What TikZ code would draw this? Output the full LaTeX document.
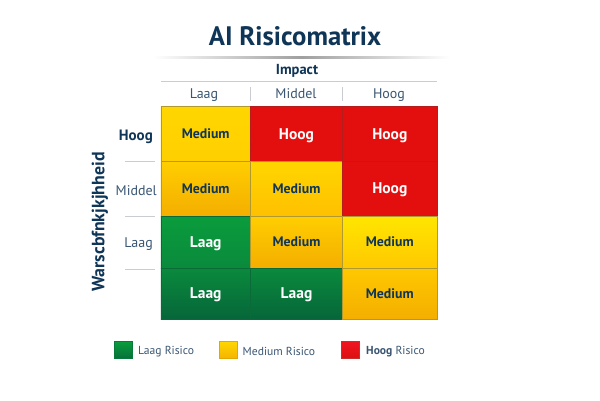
\documentclass[tikz,border=0pt]{standalone}
\usepackage{fontspec}
\setmainfont{PT Sans}
\definecolor{navy}{HTML}{0F3557}
\definecolor{slate}{HTML}{3A5673}
\definecolor{rulegray}{HTML}{C9CDD2}
\definecolor{gridline}{HTML}{B09A30}
\definecolor{redfill}{HTML}{E30F0F}
\definecolor{redline}{HTML}{B51C1C}
\definecolor{greenline}{HTML}{0A6B38}
\definecolor{yA}{HTML}{FFD600}
\definecolor{yB}{HTML}{FFCF00}
\definecolor{yC}{HTML}{FFCE00}
\definecolor{yD}{HTML}{F4AE00}
\definecolor{yE}{HTML}{FFC000}
\definecolor{yF}{HTML}{FFE600}
\definecolor{yG}{HTML}{FFC800}
\definecolor{gA}{HTML}{0A9C3C}
\definecolor{gB}{HTML}{0A8A3C}
\definecolor{gC}{HTML}{06663A}
\definecolor{kyB}{HTML}{F5B400}
\definecolor{kyL}{HTML}{E0A800}
\definecolor{kgB}{HTML}{06703A}
\definecolor{kgL}{HTML}{0A7A3C}
\definecolor{krA}{HTML}{F01520}
\definecolor{krB}{HTML}{DC0F0F}
\definecolor{krL}{HTML}{C83030}
\tikzset{
  cell/.style={rectangle,inner sep=0pt,outer sep=0pt,draw=gridline,line width=0.5pt},
  med/.style={cell,text=navy,font=\fontsize{13.8}{15}\selectfont\bfseries},
  hi/.style={cell,text=white,draw=redline,fill=redfill,text depth=0pt,font=\fontsize{15.5}{17}\selectfont\bfseries},
  lo/.style={cell,text=white,draw=greenline,text depth=0pt,font=\fontsize{15.5}{17}\selectfont\bfseries},
  collab/.style={font=\fontsize{14}{16}\selectfont,text=slate,inner sep=0pt},
  rowlab/.style={font=\fontsize{14}{16}\selectfont,text=slate,inner sep=0pt,anchor=east},
  sep/.style={draw=rulegray,line width=0.8pt},
  key/.style={rectangle,minimum width=18pt,minimum height=17pt,inner sep=0pt},
  keylab/.style={font=\fontsize{11.6}{14}\selectfont,text=slate,inner sep=0pt,anchor=west},
}
\begin{document}
\begin{tikzpicture}[x=1pt,y=-1pt]
\useasboundingbox (0,0) rectangle (600,400);
\fill[white] (0,0) rectangle (600,400);
\node[font=\fontsize{26.7}{30}\selectfont\bfseries,text=navy,inner sep=0pt] (title) at (295,36) {AI Risicomatrix};
\shade[left color=white,right color=white,middle color=gray!75] (153,56.2) rectangle (450,58);
\node[font=\fontsize{14.5}{16}\selectfont\bfseries,text=navy,inner sep=0pt] (impact) at (297,71) {Impact};
\coordinate (tl) at (161,81); \coordinate (tr) at (437,81);
\draw[sep] (tl) -- (tr);
\node[collab] (c1) at (204,95) {Laag};
\node[collab] (c2) at (296,94) {Middel};
\node[collab] (c3) at (389,95) {Hoog};
\coordinate (s1a) at (250.3,87); \coordinate (s1b) at (250.3,101);
\coordinate (s2a) at (342.5,87); \coordinate (s2b) at (342.5,101);
\draw[sep] (s1a) -- (s1b);
\draw[sep] (s2a) -- (s2b);
% row 1
\node[med,top color=yA,bottom color=yB,minimum width=89.5pt,minimum height=54.5pt] (m11) at (205.7,133.7) {Medium};
\node[hi,minimum width=92pt,minimum height=54.5pt] (m12) at (296.5,133.7) {Hoog};
\node[hi,minimum width=94.5pt,minimum height=54.5pt] (m13) at (389.8,133.7) {Hoog};
% row 2
\node[med,top color=yC,bottom color=yD,minimum width=89.5pt,minimum height=55pt] (m21) at (205.7,188.5) {Medium};
\node[med,top color=yA,bottom color=yE,minimum width=92pt,minimum height=55pt] (m22) at (296.5,188.5) {Medium};
\node[hi,minimum width=94.5pt,minimum height=55pt] (m23) at (389.8,188.5) {Hoog};
% row 3
\node[lo,top color=gA,bottom color=gB,minimum width=89.5pt,minimum height=52pt] (m31) at (205.7,242) {Laag};
\node[med,top color=yC,bottom color=yD,minimum width=92pt,minimum height=52pt] (m32) at (296.5,242) {Medium};
\node[med,top color=yF,bottom color=yG,minimum width=94.5pt,minimum height=52pt] (m33) at (389.8,242) {Medium};
% row 4
\node[lo,top color=gB,bottom color=gC,minimum width=89.5pt,minimum height=51pt] (m41) at (205.7,293.5) {Laag};
\node[lo,top color=gB,bottom color=gC,minimum width=92pt,minimum height=51pt] (m42) at (296.5,293.5) {Laag};
\node[med,top color=yG,bottom color=yD,minimum width=94.5pt,minimum height=51pt] (m43) at (389.8,293.5) {Medium};
% row labels
\node[rowlab,text=navy,font=\fontsize{15}{17}\selectfont\bfseries] (r1) at (153,137) {Hoog};
\node[rowlab] (r2) at (157,190.5) {Middel};
\node[rowlab] (r3) at (153,244.5) {Laag};
\coordinate (h1a) at (125,161.5); \coordinate (h1b) at (155,161.5);
\coordinate (h2a) at (125,216); \coordinate (h2b) at (155,216);
\coordinate (h3a) at (125,269); \coordinate (h3b) at (155,269);
\draw[sep] (h1a) -- (h1b);
\draw[sep] (h2a) -- (h2b);
\draw[sep] (h3a) -- (h3b);
\node[rotate=90,font=\fontsize{17.8}{20}\selectfont\bfseries,text=navy,inner sep=0pt] (yaxis) at (100,222) {Warscbfnkjkjhheid};
% legend
\node[key,top color=gA,bottom color=kgB,draw=kgL] (k1) at (123.5,350) {};
\node[keylab] (l1) at (138,351.3) {Laag Risico};
\node[key,top color=yA,bottom color=kyB,draw=kyL] (k2) at (228,350) {};
\node[keylab] (l2) at (242.5,351.3) {Medium Risico};
\node[key,top color=krA,bottom color=krB,draw=krL] (k3) at (350.5,350) {};
\node[keylab] (l3) at (366,351.3) {\textbf{Hoog} Risico};
\end{tikzpicture}
\end{document}
